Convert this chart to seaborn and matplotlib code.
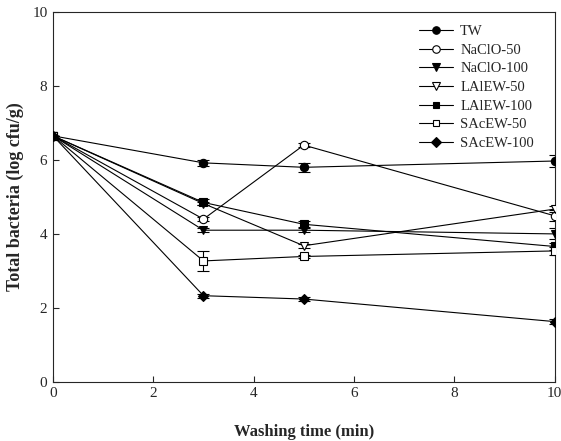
import pandas as pd
import matplotlib
matplotlib.use("Agg")
import matplotlib.pyplot as plt
import seaborn as sns

# Washing time (min) and bacteria counts (log cfu/g)
times = [0, 3, 5, 10]
tw = [6.65, 5.92, 5.80, 5.97]
naclo_50 = [6.65, 4.40, 6.40, 4.49]
naclo_100 = [6.65, 4.10, 4.10, 4.00]
lalew_50 = [6.65, 4.82, 3.68, 4.67]
lalew_100 = [6.65, 4.85, 4.26, 3.66]
sacew_50 = [6.65, 3.27, 3.39, 3.54]
sacew_100 = [6.65, 2.33, 2.24, 1.63]

# standard errors
tw_err = [0.0, 0.08, 0.12, 0.15]
naclo_50_err = [0.0, 0.05, 0.05, 0.15]
naclo_100_err = [0.0, 0.05, 0.05, 0.15]
lalew_50_err = [0.0, 0.05, 0.05, 0.08]
lalew_100_err = [0.0, 0.08, 0.08, 0.10]
sacew_50_err = [0.0, 0.28, 0.05, 0.10]
sacew_100_err = [0.0, 0.05, 0.05, 0.06]

names = ['TW', 'NaClO-50', 'NaClO-100', 'LAlEW-50', 'LAlEW-100', 'SAcEW-50', 'SAcEW-100']
values = [tw, naclo_50, naclo_100, lalew_50, lalew_100, sacew_50, sacew_100]
errors = [tw_err, naclo_50_err, naclo_100_err, lalew_50_err, lalew_100_err, sacew_50_err, sacew_100_err]

rows = []
for name, vals, errs in zip(names, values, errors):
    for t, v, e in zip(times, vals, errs):
        rows.append({'Treatment': name, 'Time': t, 'Value': v, 'Err': e})
df = pd.DataFrame(rows)

sns.set_style("ticks")
plt.rcParams['font.family'] = ['Liberation Serif', 'DejaVu Serif']
plt.rcParams['xtick.direction'] = 'in'
plt.rcParams['ytick.direction'] = 'in'

# marker, filled?
styles = {
    'TW': ('o', True),
    'NaClO-50': ('o', False),
    'NaClO-100': ('v', True),
    'LAlEW-50': ('v', False),
    'LAlEW-100': ('s', True),
    'SAcEW-50': ('s', False),
    'SAcEW-100': ('D', True),
}

fig = plt.figure(figsize=(5.61, 4.41), dpi=100)
ax = fig.add_axes([0.0945, 0.134, 0.894, 0.839])

for name in names:
    sub = df[df['Treatment'] == name]
    mk, filled = styles[name]
    ms = 5.2 if mk in ('D', 's') else 6.0
    ax.errorbar(sub['Time'], sub['Value'], yerr=sub['Err'], fmt='none',
                ecolor='black', elinewidth=0.8, capsize=4, capthick=0.8, zorder=2)
    sns.lineplot(data=sub, x='Time', y='Value', ax=ax, color='black', lw=0.8,
                 marker=mk, markersize=ms,
                 markerfacecolor='black' if filled else 'white',
                 markeredgecolor='black', markeredgewidth=0.8,
                 label=name, zorder=3)

ax.set_xlim(0, 10)
ax.set_ylim(0, 10)
ax.set_xticks([0, 2, 4, 6, 8, 10])
ax.set_yticks([0, 2, 4, 6, 8, 10])
ax.tick_params(labelsize=11, length=4, width=0.8, pad=4)
for s in ax.spines.values():
    s.set_linewidth(0.8)

ax.set_xlabel('Washing time (min)', fontsize=12, fontweight='bold', labelpad=17)
ax.set_ylabel('Total bacteria (log cfu/g)', fontsize=13, fontweight='bold', labelpad=6)

ax.legend(loc='upper right', bbox_to_anchor=(0.985, 1.0), frameon=False,
          fontsize=10.5, handlelength=2.3, labelspacing=0.37, handletextpad=0.5,
          markerscale=0.9)

plt.savefig('out.png', dpi=100)
